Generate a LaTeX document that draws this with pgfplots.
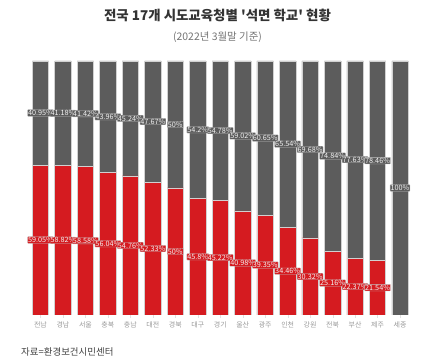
\documentclass[border=0pt]{standalone}
\usepackage{fontspec}
\setmainfont{Noto Sans CJK KR}
\usepackage{pgfplots}
\pgfplotsset{compat=1.18}
\usepackage{pgfplotstable}
\definecolor{segred}{HTML}{D51B20}
\definecolor{seggray}{HTML}{5C5C5C}
\pgfplotstableread{
x red gray
0 59.05 40.95
1 58.82 41.18
2 58.58 41.42
3 56.04 43.96
4 54.76 45.24
5 52.33 47.67
6 50 50
7 45.8 54.2
8 45.22 54.78
9 40.98 59.02
10 39.35 60.65
11 34.46 65.54
12 30.32 69.68
13 25.16 74.84
14 22.37 77.63
15 21.54 78.46
16 0 100
}\data
\begin{document}
\begin{tikzpicture}
\path[use as bounding box] (0,0) rectangle (435bp,360bp);
\pgfplotsset{common/.style={at={(27bp,45bp)}, anchor=south west, scale only axis,
  width=386.5bp, height=254bp, xmin=-0.6, xmax=16.6, ymin=0, ymax=100,
  /pgf/number format/assume math mode=true}}
\begin{axis}[common, ybar stacked, bar width=0.73,
  axis line style={draw=none}, ytick=\empty,
  xtick={0,...,16}, xtick pos=left, tick align=outside,
  xticklabels={전남,경남,서울,충북,충남,대전,경북,대구,경기,울산,광주,인천,강원,전북,부산,제주,세종},
  xticklabel style={font=\fontsize{7}{8}\selectfont, text=black!40, yshift=-0.5bp},
  major tick length=2.5bp, tick style={draw=black!12}]
\addplot[fill=segred, draw=black!18, line width=0.6pt] table[x=x,y=red]{\data};
\addplot[fill=seggray, draw=black!18, line width=0.6pt] table[x=x,y=gray]{\data};
\end{axis}
\begin{axis}[common, hide axis, point meta=explicit,
  nodes near coords={\pgfmathprintnumber{\pgfplotspointmeta}\%}]
\addplot[draw=none, skip coords between index={16}{17},
  every node near coord/.append style={anchor=center, font=\fontsize{7.3}{7.3}\selectfont,
    text=white!95!black, fill=segred, draw=white!75!black, line width=0.3pt, inner sep=0.5pt, rounded corners=0.6pt}]
  table[x=x, y expr=\thisrow{red}/2, meta=red]{\data};
\addplot[draw=none,
  every node near coord/.append style={anchor=center, font=\fontsize{7.3}{7.3}\selectfont,
    text=white!95!black, fill=seggray, draw=white!75!black, line width=0.3pt, inner sep=0.5pt, rounded corners=0.6pt}]
  table[x=x, y expr=\thisrow{red}+\thisrow{gray}/2, meta=gray]{\data};
\end{axis}
\node[font=\bfseries\fontsize{13.5}{15}\selectfont, text=black!80] at (217.5bp,345bp)
  {전국 17개 시도교육청별 \textquotesingle 석면 학교\textquotesingle\ 현황};
\node[font=\fontsize{10.5}{12}\selectfont, text=black!55] at (217.5bp,323bp)
  {(2022년 3월말 기준)};
\node[font=\fontsize{9.5}{11}\selectfont, text=black!75, anchor=west, inner sep=0pt] at (21bp,8bp)
  {자료=환경보건시민센터};
\end{tikzpicture}
\end{document}
